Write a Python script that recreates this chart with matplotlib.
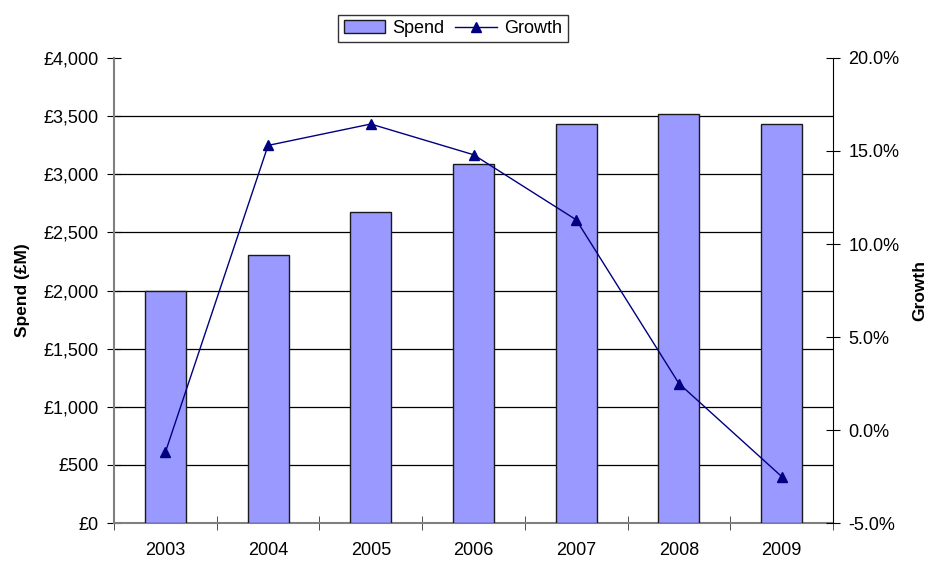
import numpy as np
import matplotlib.pyplot as plt
from matplotlib.ticker import FuncFormatter, MultipleLocator, FixedLocator

plt.rcParams['font.family'] = ['Liberation Sans', 'DejaVu Sans']

years = ['2003', '2004', '2005', '2006', '2007', '2008', '2009']
spend = [2000, 2305, 2675, 3090, 3430, 3520, 3430]
growth = [-1.2, 15.3, 16.45, 14.8, 11.3, 2.5, -2.5]

x = np.arange(len(years))

fig = plt.figure(figsize=(9.32, 5.63), dpi=100)
ax = fig.add_axes([0.1223, 0.071, 0.7715, 0.826])

# Bars on the left axis
ax.bar(x, spend, width=0.4, color='#9999FF', edgecolor='#1a1a1a',
       linewidth=1.0, zorder=3, label='Spend')
ax.set_xlim(-0.5, len(years) - 0.5)
ax.set_ylim(0, 4000)
ax.yaxis.set_major_locator(MultipleLocator(500))
ax.yaxis.set_major_formatter(FuncFormatter(lambda v, p: f'£{v:,.0f}'))
for v in range(500, 4000, 500):
    ax.axhline(v, color='black', linewidth=0.9, zorder=1)

ax.set_xticks(x)
ax.set_xticklabels(years)
ax.xaxis.set_minor_locator(FixedLocator(np.arange(-0.5, len(years), 1.0)))
ax.tick_params(axis='x', which='major', length=0, pad=14, labelsize=13)
ax.tick_params(axis='x', which='minor', length=10, direction='inout', color='#333333')
ax.tick_params(axis='y', length=10, direction='inout', labelsize=13, pad=6)
ax.set_ylabel('Spend (£M)', fontsize=12.5, fontweight='bold', labelpad=10)

ax.spines['top'].set_visible(False)
ax.spines['right'].set_visible(False)
ax.spines['left'].set_color('#808080')
ax.spines['bottom'].set_color('#808080')
ax.spines['left'].set_linewidth(1.5)
ax.spines['bottom'].set_linewidth(1.5)

# Growth line on the right axis
ax2 = ax.twinx()
ax2.plot(x, growth, color='#000080', linewidth=1.0, marker='^',
         markersize=7, zorder=4, label='Growth')
ax2.set_ylim(-5, 20)
ax2.yaxis.set_major_locator(MultipleLocator(5))
ax2.yaxis.set_major_formatter(FuncFormatter(lambda v, p: f'{v:.1f}%'))
ax2.tick_params(axis='y', length=10, direction='inout', labelsize=13, pad=6)
ax2.set_ylabel('Growth', fontsize=12.5, fontweight='bold', labelpad=9)
ax2.spines['top'].set_visible(False)
ax2.spines['left'].set_visible(False)
ax2.spines['bottom'].set_visible(False)
ax2.spines['right'].set_color('black')

# Legend at the top
h1, l1 = ax.get_legend_handles_labels()
h2, l2 = ax2.get_legend_handles_labels()
leg = fig.legend(h1 + h2, l1 + l2, loc='upper center', bbox_to_anchor=(0.486, 0.99),
                 ncol=2, frameon=True, fancybox=False, fontsize=13,
                 handlelength=2.3, columnspacing=0.6, handletextpad=0.4,
                 borderpad=0.3)
leg.get_frame().set_edgecolor('black')
leg.get_frame().set_linewidth(1.0)

fig.savefig('out.png', dpi=100)
